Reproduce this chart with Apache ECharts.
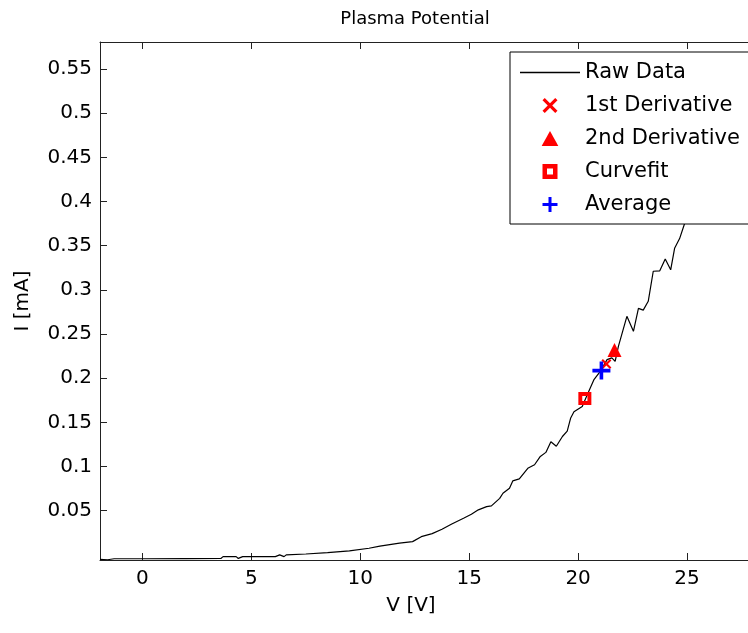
<!DOCTYPE html>
<html>
<head>
<meta charset="utf-8">
<script src="https://cdn.jsdelivr.net/npm/echarts@6/dist/echarts.min.js"></script>
<style>html,body{margin:0;padding:0;background:#fff;}#c{width:748px;height:633px;}</style>
</head>
<body>
<div id="c"></div>
<script>
// Raw data (V in volts, I in mA)
const rawV = [-1.95, -1.6, -1.3, 0, 2, 3.6, 3.7, 4.3, 4.4, 4.6, 6.1, 6.3, 6.5, 6.6, 7.5, 8.5, 9.5, 10.4, 10.9, 11.8, 12.4, 12.8, 13.3, 13.75, 14.2, 14.74, 15.1, 15.42, 15.8, 16.02, 16.4, 16.55, 16.85, 17.0, 17.3, 17.69, 18.0, 18.25, 18.52, 18.75, 19.0, 19.28, 19.5, 19.66, 19.81, 20.19, 20.4, 20.72, 21.0, 21.33, 21.55, 21.7, 21.85, 22.24, 22.54, 22.77, 22.99, 23.22, 23.45, 23.75, 24.0, 24.25, 24.43, 24.66, 24.89, 25.3, 25.8, 26.3, 26.8, 27.3, 27.8];
const rawI = [-0.005, -0.0055, -0.0044, -0.0044, -0.0042, -0.004, -0.002, -0.002, -0.004, -0.002, -0.002, 0.0, -0.002, 0.0, 0.001, 0.0025, 0.0045, 0.0075, 0.010, 0.0132, 0.015, 0.0206, 0.024, 0.029, 0.035, 0.0415, 0.046, 0.051, 0.0546, 0.0554, 0.064, 0.0697, 0.0754, 0.0837, 0.086, 0.098, 0.102, 0.111, 0.116, 0.128, 0.123, 0.134, 0.140, 0.155, 0.162, 0.168, 0.180, 0.198, 0.207, 0.221, 0.223, 0.219, 0.236, 0.270, 0.253, 0.279, 0.277, 0.287, 0.321, 0.3215, 0.335, 0.3226, 0.347, 0.358, 0.375, 0.41, 0.44, 0.48, 0.51, 0.54, 0.565];

// Plasma potential estimates
const deriv1V = [21.3];  const deriv1I = [0.216];
const deriv2V = [21.67]; const deriv2I = [0.232];
const fitV = [20.31];    const fitI = [0.177];
const avgV = [21.07];    const avgI = [0.2086];

// Axis ticks
const xTicks = [0, 5, 10, 15, 20, 25];
const yTicks = [0.05, 0.1, 0.15, 0.2, 0.25, 0.3, 0.35, 0.4, 0.45, 0.5, 0.55];

const seriesNames = ['Raw Data', '1st Derivative', '2nd Derivative', 'Curvefit', 'Average'];

const pairs = (xs, ys) => xs.map((x, i) => [x, ys[i]]);

const FONT = 'DejaVu Sans';
const X_PATH = 'path://M0,1.5L1.5,0L5,3.5L8.5,0L10,1.5L6.5,5L10,8.5L8.5,10L5,6.5L1.5,10L0,8.5L3.5,5Z';
const PLUS_PATH = 'path://M4,0H6V4H10V6H6V10H4V6H0V4H4Z';
const TRI_PATH = 'path://M5,0L10,9L0,9Z';
const SQ_PATH = 'path://M0,0H10V10H0Z M3,3V7H7V3Z';
const LINE_ICON = 'path://M0,0H60V1.3H0Z';

const chart = echarts.init(document.getElementById('c'), null, {renderer: 'canvas'});
chart.setOption({
  animation: false,
  backgroundColor: '#fff',
  title: {
    text: 'Plasma Potential',
    left: 410, top: 5, textAlign: 'center',
    textStyle: {fontFamily: FONT, fontSize: 18, fontWeight: 'normal', color: '#000'}
  },
  grid: {left: 100, top: 42, right: -6, bottom: 73, containLabel: false},
  legend: {
    orient: 'vertical',
    left: 510, top: 52,
    padding: [10, 80, 9, 10],
    itemWidth: 60, itemHeight: 15, itemGap: 12,
    backgroundColor: '#fff', borderColor: '#000', borderWidth: 1, borderRadius: 0,
    textStyle: {fontFamily: FONT, fontSize: 21, lineHeight: 21, color: '#000'},
    data: [
      {name: seriesNames[0], icon: LINE_ICON},
      {name: seriesNames[1]},
      {name: seriesNames[2]},
      {name: seriesNames[3]},
      {name: seriesNames[4]}
    ],
    z: 10
  },
  xAxis: [{
    type: 'value', min: -1.95, max: 27.8, position: 'bottom',
    name: 'V [V]', nameLocation: 'middle', nameGap: 36,
    nameTextStyle: {fontFamily: FONT, fontSize: 20, color: '#000', padding: [0, 26, 0, 0]},
    axisLine: {show: true, onZero: false, lineStyle: {color: '#222', width: 1}},
    axisTick: {show: true, inside: true, length: 7, customValues: xTicks, lineStyle: {color: '#222'}},
    axisLabel: {show: true, customValues: xTicks, margin: 9, fontFamily: FONT, fontSize: 20, color: '#000'},
    splitLine: {show: false}
  }, {
    type: 'value', min: -1.95, max: 27.8, position: 'top',
    axisLine: {show: true, onZero: false, lineStyle: {color: '#222', width: 1}},
    axisTick: {show: true, inside: true, length: 7, customValues: xTicks, lineStyle: {color: '#222'}},
    axisLabel: {show: false},
    splitLine: {show: false}
  }],
  yAxis: [{
    type: 'value', min: -0.0058, max: 0.5805, position: 'left',
    name: 'I [mA]', nameLocation: 'middle', nameGap: 67, nameRotate: 90,
    nameTextStyle: {fontFamily: FONT, fontSize: 20, color: '#000'},
    axisLine: {show: true, onZero: false, lineStyle: {color: '#222', width: 1}},
    axisTick: {show: true, inside: true, length: 7, customValues: yTicks, lineStyle: {color: '#222'}},
    axisLabel: {show: true, customValues: yTicks, margin: 8, fontFamily: FONT, fontSize: 20, color: '#000',
      formatter: v => String(Math.round(v * 100) / 100)},
    splitLine: {show: false}
  }],
  series: [
    {
      name: seriesNames[0], type: 'line', data: pairs(rawV, rawI),
      showSymbol: false, symbol: 'none',
      lineStyle: {color: '#000', width: 1.2}, itemStyle: {color: '#000'}, z: 2
    },
    {
      name: seriesNames[1], type: 'scatter', data: pairs(deriv1V, deriv1I),
      symbol: X_PATH, symbolSize: 10, itemStyle: {color: '#ff0000', opacity: 1}, z: 3
    },
    {
      name: seriesNames[2], type: 'scatter', data: pairs(deriv2V, deriv2I),
      symbol: TRI_PATH, symbolSize: 14, itemStyle: {color: '#ff0000', opacity: 1}, z: 3
    },
    {
      name: seriesNames[3], type: 'scatter', data: pairs(fitV, fitI),
      symbol: SQ_PATH, symbolSize: 13, itemStyle: {color: '#ff0000', opacity: 1}, z: 3
    },
    {
      name: seriesNames[4], type: 'scatter', data: pairs(avgV, avgI),
      symbol: PLUS_PATH, symbolSize: 18, itemStyle: {color: '#0000ff', opacity: 1}, z: 4
    }
  ]
});
</script>
</body>
</html>
